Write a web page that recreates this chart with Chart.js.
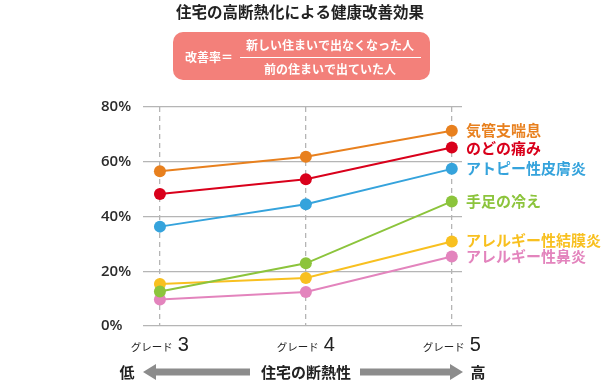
<!DOCTYPE html>
<html>
<head>
<meta charset="utf-8">
<script src="https://cdn.jsdelivr.net/npm/chart.js@4/dist/chart.umd.min.js"></script>
<style>
  html, body { margin: 0; padding: 0; background: #fff; }
  #wrap { position: relative; width: 607px; height: 382px; }
</style>
</head>
<body>
<div id="wrap"><canvas id="chart" width="607" height="382"></canvas></div>
<script>
const grades = [3, 4, 5];
const gradeLabels = ['グレード', 'グレード', 'グレード'];

const seriesNames = ['気管支喘息', 'のどの痛み', 'アトピー性皮膚炎', '手足の冷え', 'アレルギー性結膜炎', 'アレルギー性鼻炎'];
const seriesColors = ['#e8801e', '#d9001b', '#35a3dc', '#8cc43c', '#f8c020', '#e384bd'];

const asthma = [56.5, 61.8, 71.3];
const throat = [48.2, 53.6, 65.2];
const atopy = [36.3, 44.5, 57.4];
const coldLimbs = [12.6, 22.9, 45.5];
const conjunctivitis = [15.3, 17.5, 30.9];
const rhinitis = [9.7, 12.4, 25.4];

const allValues = [asthma, throat, atopy, coldLimbs, conjunctivitis, rhinitis];
const yTicks = [0, 20, 40, 60, 80];

const labelY = [130, 148, 168, 201, 240, 256];

const JP = '"Noto Sans CJK JP", "Noto Sans", sans-serif';

const datasets = allValues.map((vals, i) => ({
    label: seriesNames[i],
    data: vals.map((v, j) => ({ x: grades[j], y: v })),
    borderColor: seriesColors[i],
    backgroundColor: seriesColors[i],
    borderWidth: 2,
    pointRadius: 6,
    pointBorderWidth: 0,
    pointBackgroundColor: seriesColors[i],
    tension: 0
}));

function arrow(ctx, x1, x2, y, dir) {
    // dir: -1 head at left, 1 head at right
    ctx.fillStyle = '#8c8c8c';
    const shaft = 3.5, head = 8, headLen = 13;
    ctx.beginPath();
    if (dir < 0) {
        ctx.moveTo(x1, y);
        ctx.lineTo(x1 + headLen, y - head);
        ctx.lineTo(x1 + headLen, y - shaft);
        ctx.lineTo(x2, y - shaft);
        ctx.lineTo(x2, y + shaft);
        ctx.lineTo(x1 + headLen, y + shaft);
        ctx.lineTo(x1 + headLen, y + head);
    } else {
        ctx.moveTo(x2, y);
        ctx.lineTo(x2 - headLen, y - head);
        ctx.lineTo(x2 - headLen, y - shaft);
        ctx.lineTo(x1, y - shaft);
        ctx.lineTo(x1, y + shaft);
        ctx.lineTo(x2 - headLen, y + shaft);
        ctx.lineTo(x2 - headLen, y + head);
    }
    ctx.closePath();
    ctx.fill();
}

function roundRect(ctx, x, y, w, h, r) {
    ctx.beginPath();
    ctx.moveTo(x + r, y);
    ctx.arcTo(x + w, y, x + w, y + h, r);
    ctx.arcTo(x + w, y + h, x, y + h, r);
    ctx.arcTo(x, y + h, x, y, r);
    ctx.arcTo(x, y, x + w, y, r);
    ctx.closePath();
}

const decorPlugin = {
    id: 'decor',
    afterDraw(chart) {
        const ctx = chart.ctx;
        const xs = chart.scales.x;
        ctx.save();

        // title
        ctx.fillStyle = '#222';
        ctx.font = 'bold 15.5px ' + JP;
        ctx.textAlign = 'center';
        ctx.textBaseline = 'middle';
        ctx.fillText('住宅の高断熱化による健康改善効果', 300, 12);

        // formula box
        ctx.fillStyle = '#f3807a';
        roundRect(ctx, 173, 32, 257, 48, 10);
        ctx.fill();
        ctx.fillStyle = '#fff';
        ctx.font = 'bold 12px ' + JP;
        ctx.textAlign = 'left';
        ctx.fillText('改善率＝', 185, 57);
        ctx.textAlign = 'center';
        ctx.fillText('新しい住まいで出なくなった人', 330, 45);
        ctx.fillText('前の住まいで出ていた人', 330, 69);
        ctx.strokeStyle = '#fff';
        ctx.lineWidth = 1;
        ctx.beginPath();
        ctx.moveTo(240, 57.5);
        ctx.lineTo(421, 57.5);
        ctx.stroke();

        // series labels on the right
        ctx.textAlign = 'left';
        ctx.font = 'bold 15px ' + JP;
        seriesNames.forEach((name, i) => {
            ctx.fillStyle = seriesColors[i];
            ctx.fillText(name, 466, labelY[i]);
        });

        // grade labels
        grades.forEach((g, i) => {
            const cx = xs.getPixelForValue(g);
            ctx.font = '10.5px ' + JP;
            const w1 = ctx.measureText(gradeLabels[i]).width;
            ctx.font = '20px "Liberation Sans", Arial, sans-serif';
            const w2 = ctx.measureText(String(g)).width;
            const total = w1 + 5 + w2;
            let x = cx - total / 2;
            ctx.fillStyle = '#222';
            ctx.textAlign = 'left';
            ctx.font = '10.5px ' + JP;
            ctx.fillText(gradeLabels[i], x, 347);
            ctx.font = '20px "Liberation Sans", Arial, sans-serif';
            ctx.fillText(String(g), x + w1 + 5, 345);
        });

        // bottom axis caption
        ctx.fillStyle = '#222';
        ctx.font = 'bold 15px ' + JP;
        ctx.textAlign = 'center';
        ctx.fillText('低', 127, 372);
        ctx.fillText('高', 478, 372);
        ctx.fillText('住宅の断熱性', 306, 372);
        arrow(ctx, 143, 250, 372, -1);
        arrow(ctx, 360, 463, 372, 1);

        ctx.restore();
    }
};

new Chart(document.getElementById('chart'), {
    type: 'line',
    data: { datasets },
    options: {
        responsive: false,
        animation: false,
        events: [],
        layout: { padding: { top: 107, right: 145, bottom: 56, left: 101 } },
        plugins: {
            legend: { display: false },
            tooltip: { enabled: false }
        },
        scales: {
            x: {
                type: 'linear',
                min: 2.884,
                max: 5.07,
                afterBuildTicks: (scale) => { scale.ticks = grades.map(v => ({ value: v })); },
                ticks: { display: false },
                grid: {
                    color: '#b5b5b5',
                    lineWidth: 1.3,
                    drawTicks: false
                },
                border: { display: false, dash: [5, 4] }
            },
            y: {
                min: 0,
                max: 80,
                afterBuildTicks: (scale) => { scale.ticks = yTicks.map(v => ({ value: v })); },
                afterFit: (scale) => { scale.width = 42; },
                ticks: {
                    callback: v => v + '%',
                    color: '#2b2b2b',
                    font: { family: '"Open Sans", sans-serif', size: 15, weight: '600' },
                    crossAlign: 'far',
                    padding: 8
                },
                border: { display: false },
                grid: { color: '#b5b5b5', lineWidth: 1.3, drawTicks: false }
            }
        }
    },
    plugins: [decorPlugin]
});
</script>
</body>
</html>
